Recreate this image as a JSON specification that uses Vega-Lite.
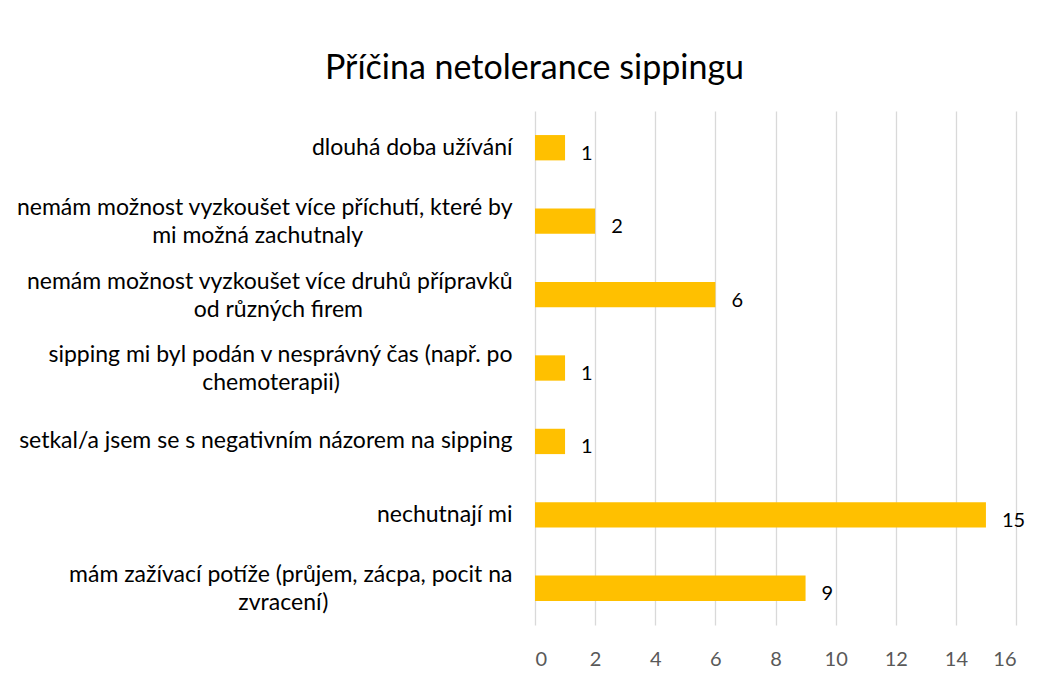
{
  "$schema": "https://vega.github.io/schema/vega-lite/v6.json",
  "width": 481,
  "height": 514,
  "autosize": {"type": "none"},
  "padding": {"left": 535, "top": 111, "right": 30, "bottom": 55},
  "background": "white",
  "title": {
    "text": "Příčina netolerance sippingu",
    "font": "Lato",
    "fontSize": 34,
    "fontWeight": "normal",
    "color": "#000000",
    "anchor": "middle",
    "baseline": "alphabetic",
    "dx": -241,
    "offset": -2
  },
  "data": {
    "values": [
      {"reason": "dlouhá doba užívání", "count": 1, "order": 1},
      {"reason": "nemám možnost vyzkoušet více příchutí, které by|mi možná zachutnaly", "count": 2, "order": 2},
      {"reason": "nemám možnost vyzkoušet více druhů přípravků|od různých firem", "count": 6, "order": 3},
      {"reason": "sipping mi byl podán v nesprávný čas (např. po|chemoterapii)", "count": 1, "order": 4},
      {"reason": "setkal/a jsem se s negativním názorem na sipping", "count": 1, "order": 5},
      {"reason": "nechutnají mi", "count": 15, "order": 6},
      {"reason": "mám zažívací potíže (průjem, zácpa, pocit na|zvracení)", "count": 9, "order": 7}
    ]
  },
  "encoding": {
    "y": {
      "field": "reason",
      "type": "nominal",
      "sort": {"field": "order", "order": "ascending"},
      "scale": {"paddingInner": 0.655, "paddingOuter": 0.3275},
      "axis": {
        "title": null,
        "domain": false,
        "ticks": false,
        "labelPadding": 23,
        "labelFont": "Lato",
        "labelFontSize": 23,
        "labelColor": "#000000",
        "labelLimit": 700,
        "labelLineHeight": 28,
        "labelAlign": "right",
        "labelOffset": {"condition": {"test": "indexof(datum.value, '|') >= 0", "value": -13}, "value": 0},
        "labelExpr": "length(split(datum.label, '|')) > 1 ? [split(datum.label, '|')[0], pad(split(datum.label, '|')[1], length(split(datum.label, '|')[1]) + round((length(split(datum.label, '|')[0]) - length(split(datum.label, '|')[1])) * 0.46), '\u2002', 'right') + '\u2060'] : datum.label"
      }
    },
    "x": {
      "field": "count",
      "type": "quantitative",
      "scale": {"domain": [0, 16]},
      "axis": {
        "title": null,
        "values": [0, 2, 4, 6, 8, 10, 12, 14, 16],
        "domain": false,
        "ticks": false,
        "grid": true,
        "gridColor": "#d9d9d9",
        "gridWidth": 1.3,
        "labelPadding": 24,
        "labelFont": "Lato",
        "labelFontSize": 20,
        "labelColor": "#595959"
      }
    }
  },
  "layer": [
    {"mark": {"type": "bar", "color": "#FFC000"}},
    {
      "mark": {"type": "text", "align": "left", "baseline": "middle", "dx": 16, "dy": 6, "font": "Lato", "fontSize": 20, "color": "#000000"},
      "encoding": {"text": {"field": "count", "type": "quantitative"}}
    }
  ],
  "config": {"view": {"stroke": null}}
}
